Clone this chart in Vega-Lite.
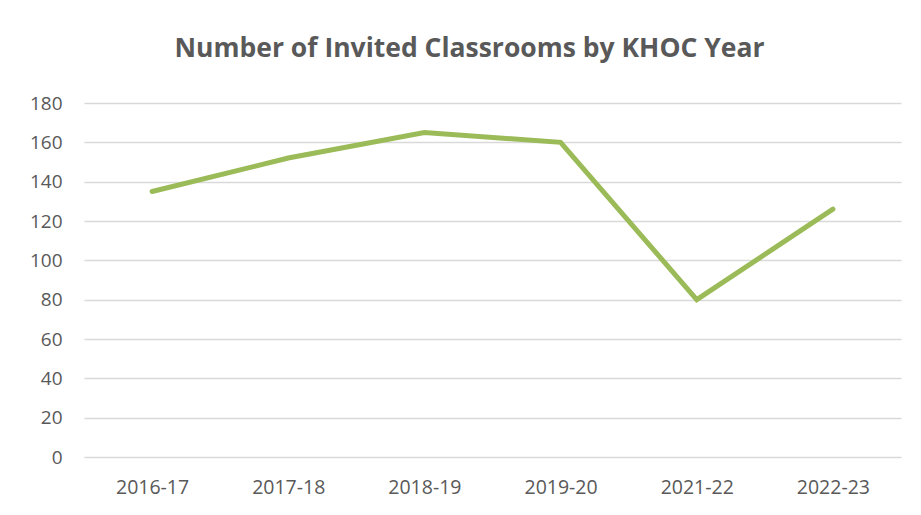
{
  "$schema": "https://vega.github.io/schema/vega-lite/v6.json",
  "autosize": "none",
  "width": 817,
  "height": 354,
  "padding": {"left": 84, "top": 103, "right": 20, "bottom": 58},
  "background": "white",
  "title": {
    "text": "Number of Invited Classrooms by KHOC Year",
    "font": "Open Sans",
    "fontSize": 26.5,
    "fontWeight": "bold",
    "color": "#595959",
    "anchor": "middle",
    "dx": -23,
    "offset": 32
  },
  "data": {
    "values": [
      {"year": "2016-17", "classrooms": 135},
      {"year": "2017-18", "classrooms": 152},
      {"year": "2018-19", "classrooms": 165},
      {"year": "2019-20", "classrooms": 160},
      {"year": "2021-22", "classrooms": 80},
      {"year": "2022-23", "classrooms": 126}
    ]
  },
  "mark": {"type": "line", "color": "#9bbb59", "strokeWidth": 5, "strokeJoin": "miter", "strokeCap": "round"},
  "encoding": {
    "x": {
      "field": "year",
      "type": "ordinal",
      "sort": null,
      "scale": {"type": "point", "padding": 0.5},
      "axis": {
        "title": null,
        "labelAngle": 0,
        "domain": false,
        "ticks": false,
        "grid": false,
        "labelFont": "Open Sans",
        "labelFontSize": 19.5,
        "labelColor": "#595959",
        "labelPadding": 21
      }
    },
    "y": {
      "field": "classrooms",
      "type": "quantitative",
      "scale": {"domain": [0, 180], "nice": false},
      "axis": {
        "title": null,
        "values": [0, 20, 40, 60, 80, 100, 120, 140, 160, 180],
        "domain": false,
        "ticks": false,
        "grid": true,
        "gridColor": "#d9d9d9",
        "gridWidth": 1.5,
        "labelFont": "Open Sans",
        "labelFontSize": 19,
        "labelColor": "#595959",
        "labelPadding": 22
      }
    }
  },
  "config": {"view": {"stroke": null}}
}
